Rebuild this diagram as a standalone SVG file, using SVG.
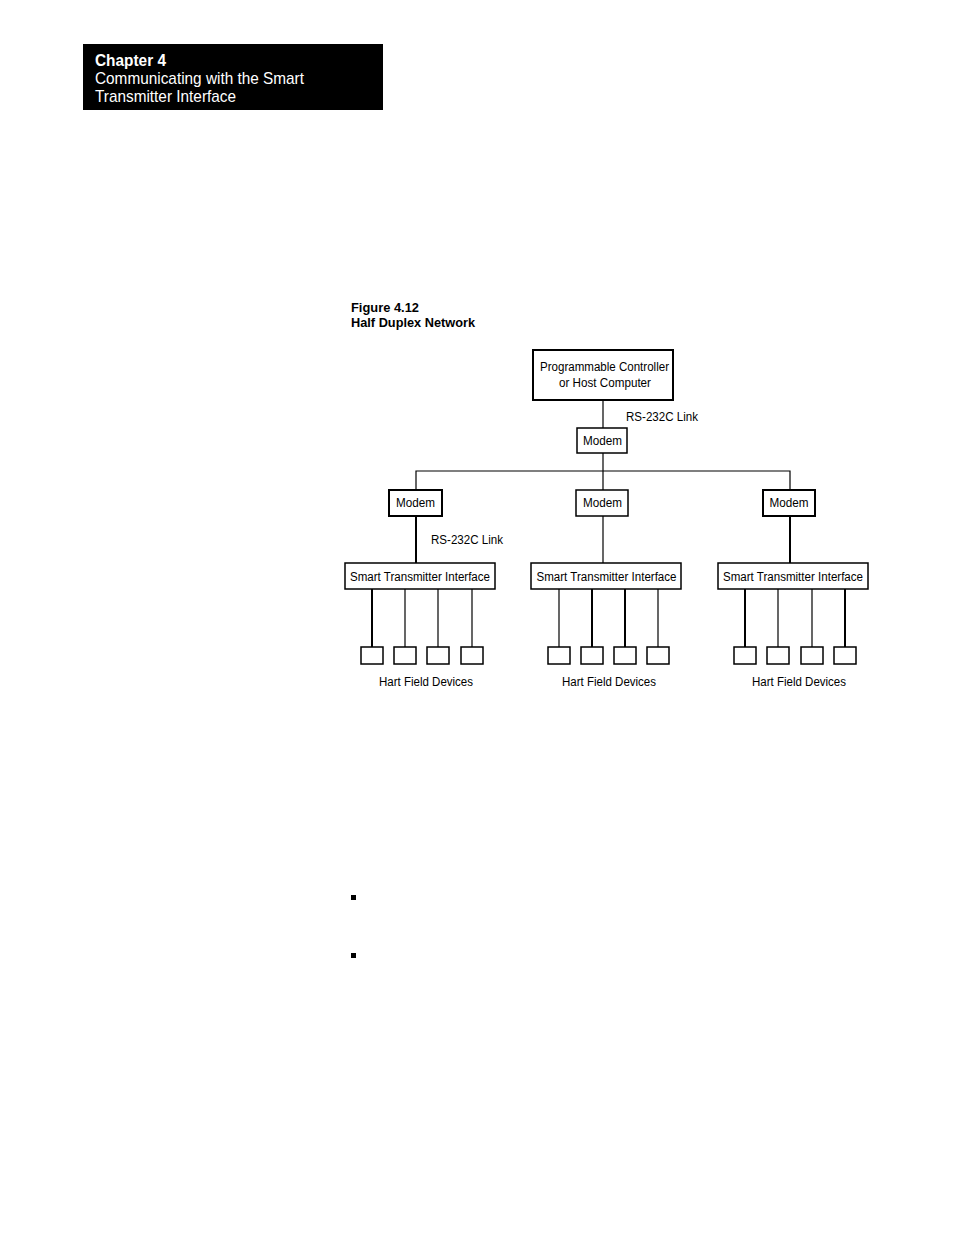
<svg xmlns="http://www.w3.org/2000/svg" width="954" height="1235" viewBox="0 0 954 1235">
<style>
text{font-family:"Liberation Sans",Arial,sans-serif;fill:#000}
.lbl{font-size:12.5px}
.c{text-anchor:middle}
.box{fill:#fff;stroke:#000;stroke-width:1.5}
.bx2{fill:#fff;stroke:#000;stroke-width:2}
.dev{fill:#fff;stroke:#000;stroke-width:1.5}
.ln{stroke:#000;stroke-width:1.2;fill:none}
.lt{stroke:#000;stroke-width:2;fill:none}
</style>
<rect width="954" height="1235" fill="#fff"/>
<g id="header">
<rect x="83" y="44" width="300" height="66" fill="#000"/>
<text x="95" y="66" style="font-size:16px;font-weight:bold;fill:#fff" textLength="71" lengthAdjust="spacingAndGlyphs">Chapter 4</text>
<text x="95" y="84" style="font-size:17px;fill:#fff" textLength="209" lengthAdjust="spacingAndGlyphs">Communicating with the Smart</text>
<text x="95" y="102" style="font-size:17px;fill:#fff" textLength="141" lengthAdjust="spacingAndGlyphs">Transmitter Interface</text>
</g>
<g id="caption">
<text x="351" y="312" style="font-size:13px;font-weight:bold" textLength="68" lengthAdjust="spacingAndGlyphs">Figure 4.12</text>
<text x="351" y="327" style="font-size:13px;font-weight:bold" textLength="124" lengthAdjust="spacingAndGlyphs">Half Duplex Network</text>
</g>
<g id="connectors">
<line class="ln" x1="603" y1="400" x2="603" y2="428"/>
<line class="ln" x1="603" y1="453" x2="603" y2="490"/>
<polyline class="ln" points="416,490 416,471 790,471 790,490"/>
<line class="lt" x1="416" y1="516" x2="416" y2="563"/>
<line class="ln" x1="603" y1="516" x2="603" y2="563"/>
<line class="lt" x1="790" y1="516" x2="790" y2="563"/>
<line class="lt" x1="372" y1="589" x2="372" y2="647"/>
<line class="ln" x1="405" y1="589" x2="405" y2="647"/>
<line class="ln" x1="438" y1="589" x2="438" y2="647"/>
<line class="ln" x1="472" y1="589" x2="472" y2="647"/>
<line class="ln" x1="559" y1="589" x2="559" y2="647"/>
<line class="lt" x1="592" y1="589" x2="592" y2="647"/>
<line class="lt" x1="625" y1="589" x2="625" y2="647"/>
<line class="ln" x1="658" y1="589" x2="658" y2="647"/>
<line class="lt" x1="745" y1="589" x2="745" y2="647"/>
<line class="ln" x1="778" y1="589" x2="778" y2="647"/>
<line class="ln" x1="812" y1="589" x2="812" y2="647"/>
<line class="lt" x1="845" y1="589" x2="845" y2="647"/>
<text class="lbl" x="626" y="421" textLength="72" lengthAdjust="spacingAndGlyphs">RS-232C Link</text>
<text class="lbl" x="431" y="544" textLength="72" lengthAdjust="spacingAndGlyphs">RS-232C Link</text>
</g>
<g id="host">
<rect class="bx2" x="533" y="350" width="140" height="50"/>
<text class="lbl c" x="604.5" y="371" textLength="129" lengthAdjust="spacingAndGlyphs">Programmable Controller</text>
<text class="lbl c" x="605" y="387" textLength="92" lengthAdjust="spacingAndGlyphs">or Host Computer</text>
</g>
<g id="modem-top">
<rect class="box" x="577" y="428" width="50" height="25"/>
<text class="lbl c" x="602.5" y="445" textLength="39" lengthAdjust="spacingAndGlyphs">Modem</text>
</g>
<g id="modem-left">
<rect class="bx2" x="389" y="490" width="53" height="26"/>
<text class="lbl c" x="415.5" y="507" textLength="39" lengthAdjust="spacingAndGlyphs">Modem</text>
</g>
<g id="modem-mid">
<rect class="box" x="576" y="490" width="52" height="26"/>
<text class="lbl c" x="602.5" y="507" textLength="39" lengthAdjust="spacingAndGlyphs">Modem</text>
</g>
<g id="modem-right">
<rect class="bx2" x="763" y="490" width="52" height="26"/>
<text class="lbl c" x="789" y="507" textLength="39" lengthAdjust="spacingAndGlyphs">Modem</text>
</g>
<g id="sti-left">
<rect class="box" x="345" y="563" width="150" height="26"/>
<text class="lbl c" x="420" y="581" textLength="140" lengthAdjust="spacingAndGlyphs">Smart Transmitter Interface</text>
</g>
<g id="sti-mid">
<rect class="box" x="531" y="563" width="150" height="26"/>
<text class="lbl c" x="606.5" y="581" textLength="140" lengthAdjust="spacingAndGlyphs">Smart Transmitter Interface</text>
</g>
<g id="sti-right">
<rect class="box" x="718" y="563" width="150" height="26"/>
<text class="lbl c" x="793" y="581" textLength="140" lengthAdjust="spacingAndGlyphs">Smart Transmitter Interface</text>
</g>
<g id="devices-left">
<rect class="dev" x="361" y="647" width="22" height="17"/>
<rect class="dev" x="394" y="647" width="22" height="17"/>
<rect class="dev" x="427" y="647" width="22" height="17"/>
<rect class="dev" x="461" y="647" width="22" height="17"/>
<text class="lbl c" x="426" y="686" textLength="94" lengthAdjust="spacingAndGlyphs">Hart Field Devices</text>
</g>
<g id="devices-mid">
<rect class="dev" x="548" y="647" width="22" height="17"/>
<rect class="dev" x="581" y="647" width="22" height="17"/>
<rect class="dev" x="614" y="647" width="22" height="17"/>
<rect class="dev" x="647" y="647" width="22" height="17"/>
<text class="lbl c" x="609" y="686" textLength="94" lengthAdjust="spacingAndGlyphs">Hart Field Devices</text>
</g>
<g id="devices-right">
<rect class="dev" x="734" y="647" width="22" height="17"/>
<rect class="dev" x="767" y="647" width="22" height="17"/>
<rect class="dev" x="801" y="647" width="22" height="17"/>
<rect class="dev" x="834" y="647" width="22" height="17"/>
<text class="lbl c" x="799" y="686" textLength="94" lengthAdjust="spacingAndGlyphs">Hart Field Devices</text>
</g>
<g id="bullets">
<rect x="351" y="895" width="5" height="5" fill="#000"/>
<rect x="351" y="953" width="5" height="5" fill="#000"/>
</g>
</svg>
